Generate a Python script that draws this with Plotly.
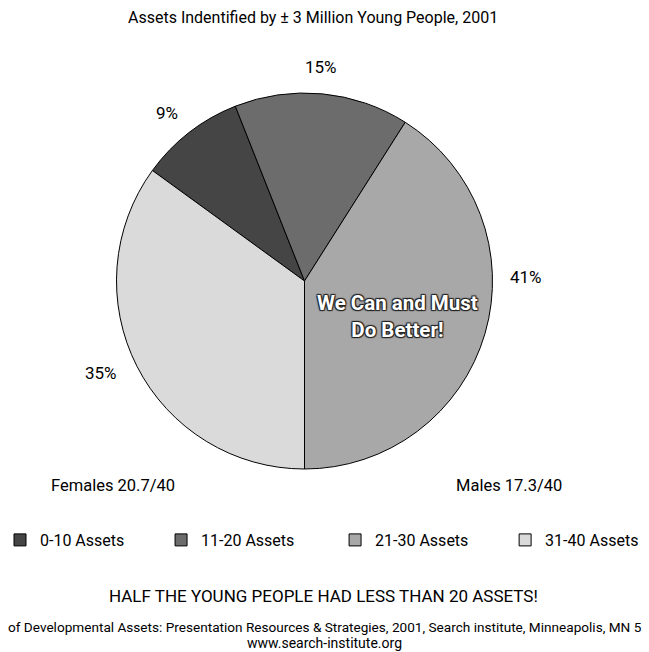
import plotly.graph_objects as go

# ---- data ----
categories = ["0-10 Assets", "11-20 Assets", "21-30 Assets", "31-40 Assets"]
values = [9, 15, 41, 35]
slice_colors = ["#454545", "#6c6c6c", "#a8a8a8", "#dadada"]

title_text = "Assets Indentified by \u00b1 3 Million Young People, 2001"
group_labels = ["Females 20.7/40", "Males 17.3/40"]
overlay_text = "We Can and Must<br>Do Better!"
headline = "HALF THE YOUNG PEOPLE HAD LESS THAN 20 ASSETS!"
source_line1 = ("of Developmental Assets: Presentation Resources & Strategies, 2001, "
                "Search institute, Minneapolis, MN 5")
source_line2 = "www.search-institute.org"

# ---- layout helpers ----
W, H = 649, 652
FONT = "Roboto, Liberation Sans, sans-serif"
NB = "\u00a0"
legend_pad = [8, 9, 8, 0]  # trailing spaces to spread legend entries


def px(x):
    return x / W


def py(y):
    return 1 - y / H


cx, cy, r = 304.5, 281, 188

fig = go.Figure()
fig.add_trace(go.Pie(
    labels=[c + NB * p for c, p in zip(categories, legend_pad)],
    values=values,
    sort=False,
    direction="clockwise",
    rotation=-54,
    textinfo="none",
    hoverinfo="label+percent",
    marker=dict(colors=slice_colors, line=dict(color="#000000", width=1)),
    domain=dict(x=[px(cx - r), px(cx + r)], y=[py(cy + r), py(cy - r)]),
))

annotations = []


def add_text(text, x, y, size, **font_kw):
    annotations.append(dict(text=text, x=px(x), y=py(y), xref="paper", yref="paper",
                            xanchor="center", yanchor="middle", showarrow=False,
                            align="center",
                            font=dict(family=FONT, size=size, color=font_kw.pop("color", "#000"),
                                      **font_kw)))


# percent labels
pct_pos = [(167, 113), (321, 67), (526, 277), (101, 373)]
for v, (x, y) in zip(values, pct_pos):
    add_text(f"{v}%", x, y, 17)
# title
add_text(title_text, 313, 18, 16)
# group labels
for t, (x, y) in zip(group_labels, [(113, 485), (509, 485)]):
    add_text(t, x, y, 16.5)
# overlay
add_text(overlay_text, 397, 316, 20.5, color="#ffffff", weight="bold",
         shadow="1px 1px 1px #222, -1px -1px 1px #222, 1px -1px 1px #222, -1px 1px 1px #222")
# headline and source
add_text(headline, 323, 596, 17)
add_text(source_line1, 324.5, 627, 13.6)
add_text(source_line2, 324.5, 643, 14)

fig.update_layout(
    width=W, height=H,
    margin=dict(l=0, r=0, t=0, b=0),
    paper_bgcolor="#ffffff",
    plot_bgcolor="#ffffff",
    showlegend=True,
    legend=dict(orientation="h", x=0, xanchor="left", y=py(540), yanchor="middle",
                font=dict(family=FONT, size=16, color="#000"),
                bgcolor="rgba(0,0,0,0)", traceorder="normal"),
    annotations=annotations,
)

fig.write_html("out.html")
